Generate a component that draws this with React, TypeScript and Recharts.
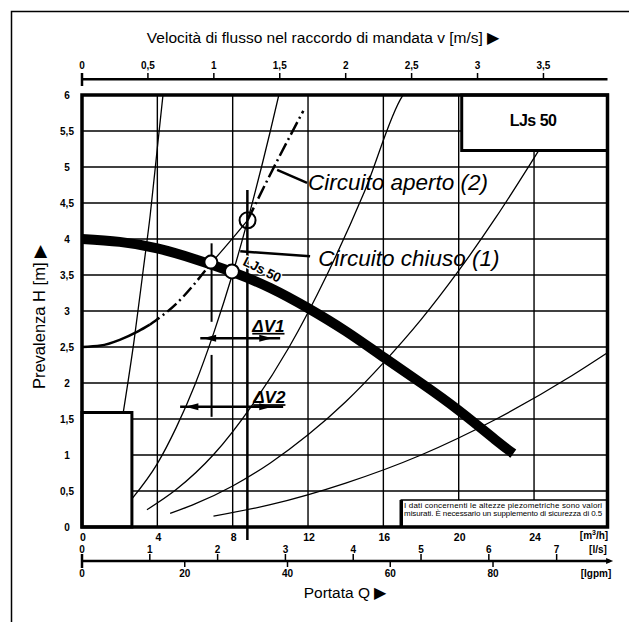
import React from 'react';
import {
  ComposedChart, Line, XAxis, YAxis, CartesianGrid,
  ReferenceArea, ReferenceLine, ReferenceDot, Customized,
} from 'recharts';

const FONT = '"Liberation Sans", Arial, Helvetica, sans-serif';

// ─── Scales / unit conversions ────────────────────────────────────────────────
const Q_MAX = 27.9; // m³/h at the right edge of the frame
const M3H_PER_LS = 3.6;
const M3H_PER_IGPM = 0.27277;
const M3H_PER_MS = 7.0; // outlet DN 50

// ─── Ticks ────────────────────────────────────────────────────────────────────
const H_TICKS = [0, 0.5, 1, 1.5, 2, 2.5, 3, 3.5, 4, 4.5, 5, 5.5, 6];
const Q_TICKS = [0, 4, 8, 12, 16, 20, 24];
const LS_TICKS = [0, 1, 2, 3, 4, 5, 6, 7];
const IGPM_TICKS = [0, 20, 40, 60, 80];
const V_TICKS = [0, 0.5, 1, 1.5, 2, 2.5, 3, 3.5];

// ─── Curves (q = m³/h, h = m) ─────────────────────────────────────────────────
const PUMP_LJS50 = [
  { q: 0, h: 4.0 }, { q: 2, h: 3.96 }, { q: 4, h: 3.87 }, { q: 6, h: 3.72 },
  { q: 8, h: 3.54 }, { q: 10, h: 3.32 }, { q: 12, h: 3.04 },
  { q: 14, h: 2.72 }, { q: 16, h: 2.36 }, { q: 18, h: 2.0 }, { q: 20, h: 1.62 },
  { q: 22, h: 1.2 }, { q: 22.9, h: 1.02 },
];
const SYS_A = [
  { q: 2.19, h: 1.59 }, { q: 2.77, h: 2.6 }, { q: 3.25, h: 3.57 },
  { q: 3.62, h: 4.33 }, { q: 3.99, h: 5.24 }, { q: 4.3, h: 6.0 },
];
const SYS_CLOSED = [
  { q: 2.65, h: 0.39 }, { q: 4, h: 0.88 }, { q: 5, h: 1.38 }, { q: 6, h: 1.98 },
  { q: 7, h: 2.7 }, { q: 8, h: 3.52 }, { q: 9, h: 4.46 }, { q: 10, h: 5.5 }, { q: 10.45, h: 6.0 },
];
const SYS_C = [
  { q: 3.45, h: 0.24 }, { q: 5, h: 0.52 }, { q: 7, h: 1.01 }, { q: 9, h: 1.68 },
  { q: 11, h: 2.5 }, { q: 13, h: 3.5 }, { q: 15, h: 4.66 }, { q: 17, h: 5.98 }, { q: 17.05, h: 6.0 },
];
const SYS_D = [
  { q: 4.68, h: 0.19 }, { q: 6, h: 0.32 }, { q: 8, h: 0.57 }, { q: 10, h: 0.89 },
  { q: 12, h: 1.28 }, { q: 14, h: 1.74 }, { q: 16, h: 2.28 }, { q: 18, h: 2.88 },
  { q: 20, h: 3.56 }, { q: 22, h: 4.31 }, { q: 24.25, h: 5.23 },
];
const SYS_E = [
  { q: 6.98, h: 0.15 }, { q: 10, h: 0.31 }, { q: 14, h: 0.61 }, { q: 18, h: 1.0 },
  { q: 22, h: 1.5 }, { q: 26, h: 2.1 }, { q: 27.9, h: 2.42 },
];
// open circuit (2)
const OPEN_SOLID = [
  { q: 0, h: 2.5 }, { q: 1, h: 2.52 }, { q: 2, h: 2.6 }, { q: 3, h: 2.72 }, { q: 3.6, h: 2.81 },
];
const OPEN_DASH_LOW = [{ q: 3.6, h: 2.81 }, { q: 5, h: 3.1 }, { q: 6.84, h: 3.66 }];
const OPEN_THIN = [{ q: 6.84, h: 3.66 }, { q: 7.8, h: 3.95 }, { q: 8.79, h: 4.26 }];
const OPEN_DASH_HIGH = [{ q: 8.79, h: 4.26 }, { q: 10, h: 4.9 }, { q: 11.75, h: 5.78 }];

// ─── Operating points & ΔV ────────────────────────────────────────────────────
const OP_POINTS = [{ q: 6.84, h: 3.68 }, { q: 7.96, h: 3.55 }, { q: 8.79, h: 4.26 }];
const OP_RADIUS = [6.5, 7, 8];
const DV1 = { h: 2.62, from: 6.28, to: 10.52, tipL: 6.43, tipR: 10.1 };
const DV2 = { h: 1.67, from: 5.21, to: 10.68, tipL: 5.49, tipR: 10.1 };

const fmt = (v: number) => String(v).replace('.', ',');
const tickText = { fontFamily: FONT, fontSize: 10, fontWeight: 'bold' as const, fill: '#000' };

// ─── Axis ticks (axes are 1px tall/wide, so x / y sit on the frame) ──────────
const HTick = ({ x, y, payload }: any) => (
  <text x={x - 15} y={y + 4} textAnchor="middle" {...tickText}>{fmt(payload.value)}</text>
);
const QTick = ({ x, y, payload }: any) => (
  <text x={x + 1} y={y + 12} textAnchor="middle" {...tickText} fontSize={10.5}>{payload.value}</text>
);
const LsTick = ({ x, payload }: any) => (
  <g>
    <line x1={x} x2={x} y1={554} y2={payload.value === 0 ? 568 : 561} stroke="#000" strokeWidth={payload.value === 0 ? 2.5 : 1.5} />
    <text x={x} y={553} textAnchor="middle" {...tickText}>{payload.value}</text>
  </g>
);
const IgpmTick = ({ x, payload }: any) => (
  <g>
    {payload.value !== 0 && <line x1={x} x2={x} y1={561} y2={567} stroke="#000" strokeWidth={1.5} />}
    <text x={x} y={577} textAnchor="middle" {...tickText}>{payload.value}</text>
  </g>
);
const VTick = ({ x, payload }: any) => (
  <g>
    <line x1={x} x2={x} y1={73} y2={payload.value === 0 ? 86 : 79} stroke="#000" strokeWidth={payload.value === 0 ? 2.5 : 1.5} />
    <text x={x} y={69} textAnchor="middle" {...tickText}>{fmt(payload.value)}</text>
  </g>
);

// ─── Shapes ───────────────────────────────────────────────────────────────────
const arrowHead = (dir: 1 | -1, len = 13, half = 3.5) => (p: any) => (
  <polygon
    points={`${p.cx},${p.cy} ${p.cx - dir * len},${p.cy - half} ${p.cx - dir * len},${p.cy + half}`}
    fill="#000"
  />
);
const textAt = (label: React.ReactNode, style: any = {}) => (p: any) => (
  <text x={p.cx} y={p.cy} fontFamily={FONT} fill="#000" {...style}>{label}</text>
);

const Frame = () => (
  <g fontFamily={FONT} fill="#000">
    <rect x={11.5} y={11.5} width={700} height={700} fill="none" stroke="#000" strokeWidth={1.5} />
    <text x={323} y={43} fontSize={15.5} textAnchor="middle">
      Velocità di flusso nel raccordo di mandata v [m/s] ▶
    </text>
    <text x={45} y={317} fontSize={16.5} textAnchor="middle" transform="rotate(-90 45 317)">
      Prevalenza H [m] ▶
    </text>
    <text x={345} y={598} fontSize={15.5} textAnchor="middle">Portata Q ▶</text>
    <text x={594} y={539} textAnchor="middle" {...tickText}>
      [m<tspan dy={-4} fontSize={7}>3</tspan><tspan dy={4}>/h]</tspan>
    </text>
    <text x={598} y={553} textAnchor="middle" {...tickText}>[l/s]</text>
    <text x={596} y={577} textAnchor="middle" {...tickText}>[Igpm]</text>
  </g>
);

const thin = { stroke: '#000', strokeWidth: 1.3, dot: false, activeDot: false, isAnimationActive: false, type: 'monotone' as const };
const axisBase = { type: 'number' as const, interval: 0, allowDataOverflow: true, tickSize: 0, tickMargin: 0, axisLine: false };

export default function App() {
  return (
    <div style={{ position: 'absolute', left: 0, top: 0, width: 629, height: 622, background: '#fff' }}>
      <ComposedChart width={629} height={622} margin={{ top: 94, right: 21.5, bottom: 92, left: 81 }}>
        <CartesianGrid xAxisId="q" yAxisId="h" stroke="#000" strokeWidth={1.4} />

        <XAxis xAxisId="q" dataKey="q" {...axisBase} domain={[0, Q_MAX]} ticks={Q_TICKS} height={1} tick={<QTick />} />
        <XAxis xAxisId="ls" dataKey="ls" {...axisBase} domain={[0, Q_MAX / M3H_PER_LS]} ticks={LS_TICKS} height={1} tick={<LsTick />} />
        <XAxis xAxisId="igpm" dataKey="igpm" {...axisBase} domain={[0, Q_MAX / M3H_PER_IGPM]} ticks={IGPM_TICKS} height={1} tick={<IgpmTick />} />
        <XAxis xAxisId="v" dataKey="v" orientation="top" {...axisBase} domain={[0, Q_MAX / M3H_PER_MS]} ticks={V_TICKS} height={1} tick={<VTick />} />
        <YAxis yAxisId="h" {...axisBase} domain={[0, 6]} ticks={H_TICKS} width={1} tick={<HTick />} />

        {/* axis lines outside the frame */}
        <ReferenceLine xAxisId="q" yAxisId="h" ifOverflow="visible" stroke="#000" strokeWidth={2.5}
          segment={[{ x: 0, y: 6.22 }, { x: Q_MAX, y: 6.22 }]} />
        <ReferenceLine xAxisId="q" yAxisId="h" ifOverflow="visible" stroke="#000" strokeWidth={2.5}
          segment={[{ x: 0, y: -0.472 }, { x: 28.0, y: -0.472 }]} />
        <ReferenceDot xAxisId="q" yAxisId="h" x={28.2} y={-0.472} ifOverflow="visible" shape={arrowHead(1, 7, 3)} />

        {/* system curves */}
        <Line data={SYS_A} dataKey="h" xAxisId="q" yAxisId="h" {...thin} />
        <Line data={SYS_CLOSED} dataKey="h" xAxisId="q" yAxisId="h" {...thin} />
        <Line data={SYS_C} dataKey="h" xAxisId="q" yAxisId="h" {...thin} />
        <Line data={SYS_D} dataKey="h" xAxisId="q" yAxisId="h" {...thin} />
        <Line data={SYS_E} dataKey="h" xAxisId="q" yAxisId="h" {...thin} />

        {/* open circuit (2) */}
        <Line data={OPEN_SOLID} dataKey="h" xAxisId="q" yAxisId="h" {...thin} strokeWidth={2.5} />
        <Line data={OPEN_DASH_LOW} dataKey="h" xAxisId="q" yAxisId="h" {...thin} strokeWidth={2.5} strokeDasharray="12 4 2 4" />
        <Line data={OPEN_THIN} dataKey="h" xAxisId="q" yAxisId="h" {...thin} />
        <Line data={OPEN_DASH_HIGH} dataKey="h" xAxisId="q" yAxisId="h" {...thin} strokeWidth={2.5} strokeDasharray="14 4 2 4" />

        {/* pump curve */}
        <Line data={PUMP_LJS50} dataKey="h" xAxisId="q" yAxisId="h" {...thin} type="natural" strokeWidth={10} />

        {/* verticals at the operating points */}
        <ReferenceLine xAxisId="q" yAxisId="h" ifOverflow="visible" stroke="#000" strokeWidth={2.5}
          segment={[{ x: 8.78, y: -0.18 }, { x: 8.78, y: 4.68 }]} />
        <ReferenceLine xAxisId="q" yAxisId="h" stroke="#000" strokeWidth={2}
          segment={[{ x: 6.88, y: 2.85 }, { x: 6.88, y: 3.94 }]} />
        <ReferenceLine xAxisId="q" yAxisId="h" stroke="#000" strokeWidth={2}
          segment={[{ x: 6.88, y: 1.53 }, { x: 6.88, y: 2.39 }]} />

        {/* ΔV arrows */}
        {[DV1, DV2].map((d, i) => (
          <ReferenceLine key={`dv${i}`} xAxisId="q" yAxisId="h" stroke="#000" strokeWidth={2.5}
            segment={[{ x: d.from, y: d.h }, { x: d.to, y: d.h }]} />
        ))}
        {[DV1, DV2].map((d, i) => (
          <ReferenceDot key={`dvl${i}`} xAxisId="q" yAxisId="h" x={d.tipL} y={d.h} shape={arrowHead(-1)} />
        ))}
        {[DV1, DV2].map((d, i) => (
          <ReferenceDot key={`dvr${i}`} xAxisId="q" yAxisId="h" x={d.tipR} y={d.h} shape={arrowHead(1)} />
        ))}

        {/* operating point circles */}
        {OP_POINTS.map((p, i) => (
          <ReferenceDot key={`op${i}`} xAxisId="q" yAxisId="h" x={p.q} y={p.h} r={OP_RADIUS[i]}
            fill="#fff" fillOpacity={i === 2 ? 0 : 1} stroke="#000" strokeWidth={2} />
        ))}

        {/* leaders */}
        <ReferenceLine xAxisId="q" yAxisId="h" stroke="#000" strokeWidth={2.5}
          segment={[{ x: 10.36, y: 4.96 }, { x: 11.95, y: 4.78 }]} />
        <ReferenceLine xAxisId="q" yAxisId="h" stroke="#000" strokeWidth={2.5}
          segment={[{ x: 8.4, y: 3.83 }, { x: 12.11, y: 3.76 }]} />

        {/* boxes */}
        <ReferenceArea xAxisId="q" yAxisId="h" x1={0} x2={2.65} y1={0} y2={1.59} fill="#fff" fillOpacity={1} stroke="#000" strokeWidth={3} />
        <ReferenceArea xAxisId="q" yAxisId="h" x1={20.16} x2={Q_MAX} y1={5.23} y2={6} fill="#fff" fillOpacity={1} stroke="#000" strokeWidth={3} />
        <ReferenceArea xAxisId="q" yAxisId="h" x1={16.95} x2={Q_MAX} y1={0} y2={0.375} fill="#fff" fillOpacity={1} stroke="#000" strokeWidth={1.5} />
        <ReferenceLine xAxisId="q" yAxisId="h" stroke="#000" strokeWidth={3.5}
          segment={[{ x: 16.95, y: 0 }, { x: 16.95, y: 0.375 }]} />
        <ReferenceArea xAxisId="q" yAxisId="h" x1={0} x2={Q_MAX} y1={0} y2={6} fill="none" stroke="#000" strokeWidth={3.5} />

        {/* texts */}
        <ReferenceDot xAxisId="q" yAxisId="h" x={23.95} y={5.57} shape={textAt('LJs 50', { fontSize: 16, fontWeight: 'bold', textAnchor: 'middle', letterSpacing: -0.5 })} />
        <ReferenceDot xAxisId="q" yAxisId="h" x={12.0} y={4.68} shape={textAt('Circuito aperto (2)', { fontSize: 22.5, fontStyle: 'italic' })} />
        <ReferenceDot xAxisId="q" yAxisId="h" x={12.54} y={3.625} shape={textAt('Circuito chiuso (1)', { fontSize: 22.5, fontStyle: 'italic' })} />
        <ReferenceDot xAxisId="q" yAxisId="h" x={9.04} y={2.71} shape={textAt('ΔV1', { fontSize: 17, fontStyle: 'italic', fontWeight: 'bold', textDecoration: 'underline' })} />
        <ReferenceDot xAxisId="q" yAxisId="h" x={9.09} y={1.72} shape={textAt('ΔV2', { fontSize: 17, fontStyle: 'italic', fontWeight: 'bold', textDecoration: 'underline' })} />
        <ReferenceDot xAxisId="q" yAxisId="h" x={9.45} y={3.52}
          shape={(p: any) => (
            <text x={p.cx} y={p.cy} fontFamily={FONT} fontSize={13.5} fontWeight="bold" textAnchor="middle"
              stroke="#fff" strokeWidth={2.5} paintOrder="stroke" letterSpacing={-0.3}
              transform={`rotate(27 ${p.cx} ${p.cy})`}>LJs 50</text>
          )} />
        <ReferenceDot xAxisId="q" yAxisId="h" x={17.1} y={0.264}
          shape={textAt('I dati concernenti le altezze piezometriche sono valori', { fontSize: 8, textLength: 198, lengthAdjust: 'spacing' })} />
        <ReferenceDot xAxisId="q" yAxisId="h" x={17.1} y={0.153}
          shape={textAt('misurati. È necessario un supplemento di sicurezza di 0.5', { fontSize: 8, textLength: 198, lengthAdjust: 'spacing' })} />

        <Customized component={<Frame />} />
      </ComposedChart>
    </div>
  );
}
